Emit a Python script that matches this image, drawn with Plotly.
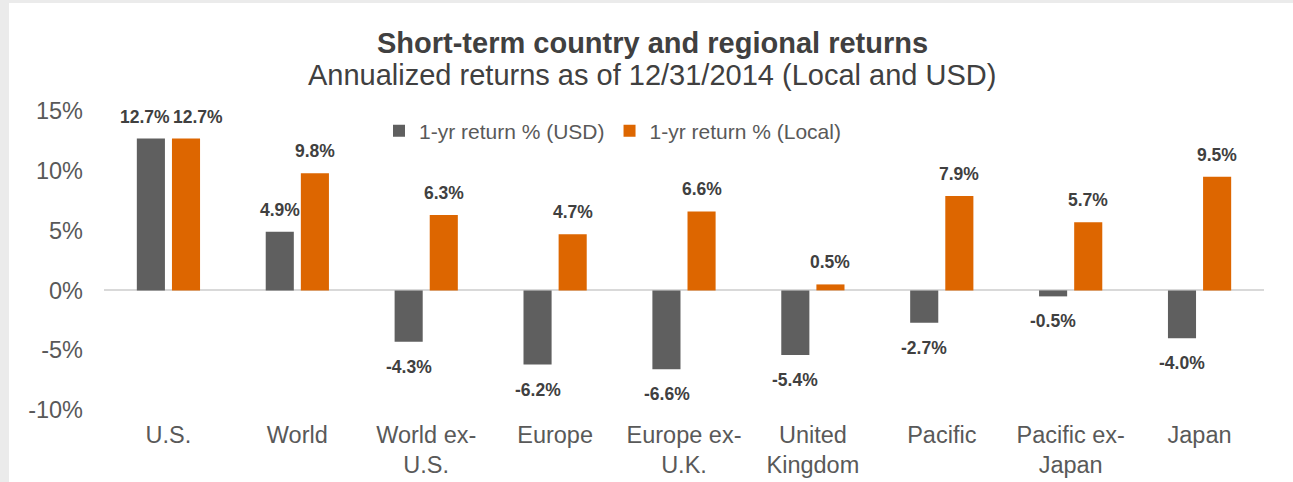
import plotly.graph_objects as go

categories = ["U.S.", "World", "World ex-<br>U.S.", "Europe", "Europe ex-<br>U.K.",
              "United<br>Kingdom", "Pacific", "Pacific ex-<br>Japan", "Japan"]
usd_returns = [12.7, 4.9, -4.3, -6.2, -6.6, -5.4, -2.7, -0.5, -4.0]
local_returns = [12.7, 9.8, 6.3, 4.7, 6.6, 0.5, 7.9, 5.7, 9.5]
series_names = ["1-yr return % (USD)", "1-yr return % (Local)"]
y_ticks = [-10, -5, 0, 5, 10, 15]
y_tick_labels = ["-10%", "-5%", "0%", "5%", "10%", "15%"]

GRAY = "#5f5f5f"
ORANGE = "#dd6600"
TICK_COLOR = "#595959"
LABEL_COLOR = "#404040"
BASE_FONT = "Liberation Sans, Arial, sans-serif"

W, H = 1293, 482
ML, MR, MT, MB = 104, 29, 111, 72

fig = go.Figure()
for name, vals, col in [(series_names[0], usd_returns, GRAY), (series_names[1], local_returns, ORANGE)]:
    fig.add_trace(go.Bar(x=categories, y=vals, name=name, marker=dict(color=col, line=dict(width=0))))

# data labels
bar_offset = 17.5
nudge = {(0, 0): -6, (0, 1): 12}
for si, vals in enumerate([usd_returns, local_returns]):
    for ci, (cat, v) in enumerate(zip(categories, vals)):
        xs = (-bar_offset if si == 0 else bar_offset) + nudge.get((ci, si), 0)
        fig.add_annotation(
            x=cat, y=v, xref="x", yref="y", text=f"<b>{v:.1f}%</b>", showarrow=False,
            xshift=xs, yshift=(10 if v >= 0 else -13),
            yanchor=("bottom" if v >= 0 else "top"),
            font=dict(family=BASE_FONT, size=17.5, color=LABEL_COLOR),
        )

ph = H - MT - MB
pw = W - ML - MR
def px_x(p):
    return (p - ML) / pw
def px_y(p):
    return 1 - (p - MT) / ph

# titles
fig.add_annotation(x=px_x(652), y=px_y(43), xref="paper", yref="paper", showarrow=False,
                   text="<b>Short-term country and regional returns</b>", yanchor="middle",
                   font=dict(family=BASE_FONT, size=29, color=LABEL_COLOR))
fig.add_annotation(x=px_x(652), y=px_y(75), xref="paper", yref="paper", showarrow=False,
                   text="Annualized returns as of 12/31/2014 (Local and USD)", yanchor="middle",
                   font=dict(family=BASE_FONT, size=29, color=LABEL_COLOR))

# white card with grey frame
fig.add_shape(type="rect", xref="paper", yref="paper", layer="below",
              x0=px_x(9), x1=px_x(W + 5), y0=px_y(H + 5), y1=px_y(3),
              fillcolor="white", line=dict(width=0))

fig.update_layout(
    width=W, height=H,
    margin=dict(l=ML, r=MR, t=MT, b=MB, pad=0, autoexpand=False),
    paper_bgcolor="#ebebeb", plot_bgcolor="rgba(0,0,0,0)",
    barmode="group", bargap=0.455, bargroupgap=0.2,
    font=dict(family=BASE_FONT, color=TICK_COLOR),
    showlegend=True,
    legend=dict(orientation="h", x=px_x(379), y=px_y(131), xanchor="left", yanchor="middle",
                font=dict(family=BASE_FONT, size=21, color=TICK_COLOR),
                bgcolor="rgba(0,0,0,0)", itemwidth=30, tracegroupgap=0),
)
fig.update_xaxes(showgrid=False, showline=False, ticks="", automargin=False,
                 tickfont=dict(size=23.5, color=TICK_COLOR), ticklabelstandoff=8)
fig.update_yaxes(range=[-10, 15], tickvals=y_ticks, ticktext=y_tick_labels, showgrid=False,
                 automargin=False, zeroline=True, zerolinecolor="#d9d9d9", zerolinewidth=2, ticks="",
                 tickfont=dict(size=23.5, color=TICK_COLOR), ticklabelstandoff=20)

fig.write_html("out.html", config={"displayModeBar": False},
               post_script="document.body.style.margin='0';document.body.style.overflow='hidden';")
